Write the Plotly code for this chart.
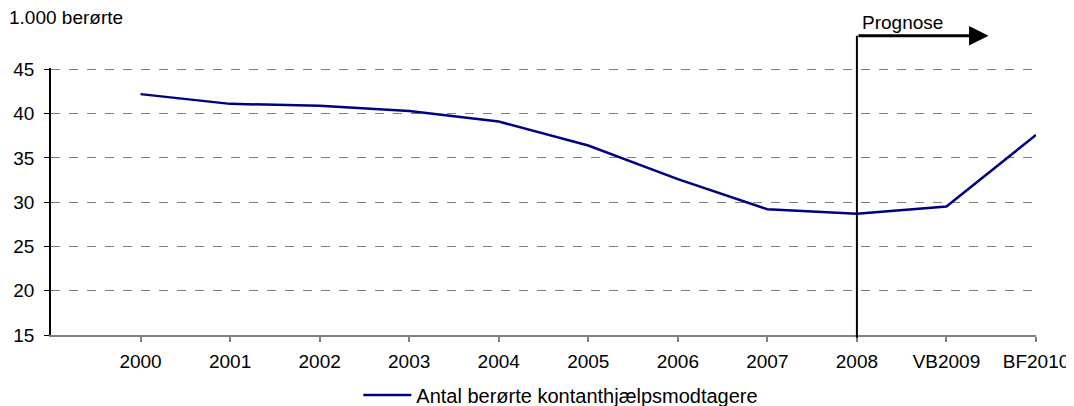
import plotly.graph_objects as go

categories = ["2000", "2001", "2002", "2003", "2004", "2005", "2006", "2007", "2008", "VB2009", "BF2010"]
values = [42.2, 41.1, 40.9, 40.3, 39.1, 36.4, 32.6, 29.2, 28.7, 29.5, 37.6]
series_name = "Antal berørte kontanthjælpsmodtagere"
y_ticks = [15, 20, 25, 30, 35, 40, 45]
forecast_start = "2008"

FONT = "Liberation Sans, Arial, sans-serif"
FS = 19
xpos = list(range(len(categories)))
fs_idx = categories.index(forecast_start)

fig = go.Figure()
fig.add_trace(go.Scatter(
    x=xpos, y=values, mode="lines", name=series_name,
    line=dict(color="#000080", width=2.5),
))

PH = 267.3  # plot height in px
# page body has an 8px margin; compensate so plot area lands at x 51-1036, y 69-335
fig.update_layout(
    width=1074, height=406,
    margin=dict(l=43, r=46, t=59.7, b=79, autoexpand=False),
    paper_bgcolor="white", plot_bgcolor="white",
    font=dict(family=FONT, size=FS, color="black"),
    showlegend=True,
    legend=dict(orientation="h", x=0.312, xanchor="left", y=-0.152, yanchor="top",
                itemwidth=48, font=dict(size=FS + 1), bgcolor="rgba(0,0,0,0)"),
    xaxis=dict(
        range=[-1, len(categories) - 1], automargin=False,
        tickmode="array", tickvals=xpos, ticktext=categories,
        showgrid=False, zeroline=False,
        showline=True, linecolor="#808080", linewidth=1.5,
        ticks="outside", ticklen=5, tickcolor="#808080", tickwidth=1.5,
        ticklabelstandoff=3,
    ),
    yaxis=dict(
        range=[15, 45.15], tickvals=y_ticks, automargin=False,
        showgrid=True, gridcolor="#808080", griddash="dash", gridwidth=1,
        zeroline=False,
        showline=True, linecolor="black", linewidth=1.5,
        ticks="outside", ticklen=5, tickcolor="black", tickwidth=1,
        ticklabelstandoff=6,
    ),
)

arrow_y = 1 + 32.3 / PH
# vertical forecast line
fig.add_shape(type="line", xref="x", yref="paper",
              x0=fs_idx, x1=fs_idx, y0=-0.01, y1=arrow_y,
              line=dict(color="black", width=2))
# arrow
fig.add_annotation(x=fs_idx + 1.47, y=arrow_y, xref="x", yref="paper",
                   ax=fs_idx, ay=0, axref="x", ayref="pixel",
                   showarrow=True, arrowhead=2, arrowsize=1.3, arrowwidth=3,
                   arrowcolor="black", text="")
fig.add_annotation(x=fs_idx, y=arrow_y, xref="x", yref="paper",
                   text="Prognose", showarrow=False,
                   xanchor="left", yanchor="bottom", xshift=3, yshift=1,
                   font=dict(size=FS, family=FONT))
fig.add_annotation(x=0, y=1 + 50.3 / PH, xref="paper", yref="paper",
                   text="1.000 berørte", showarrow=False,
                   xanchor="left", yanchor="middle", xshift=-44,
                   font=dict(size=FS, family=FONT))

fig.write_html("out.html")
